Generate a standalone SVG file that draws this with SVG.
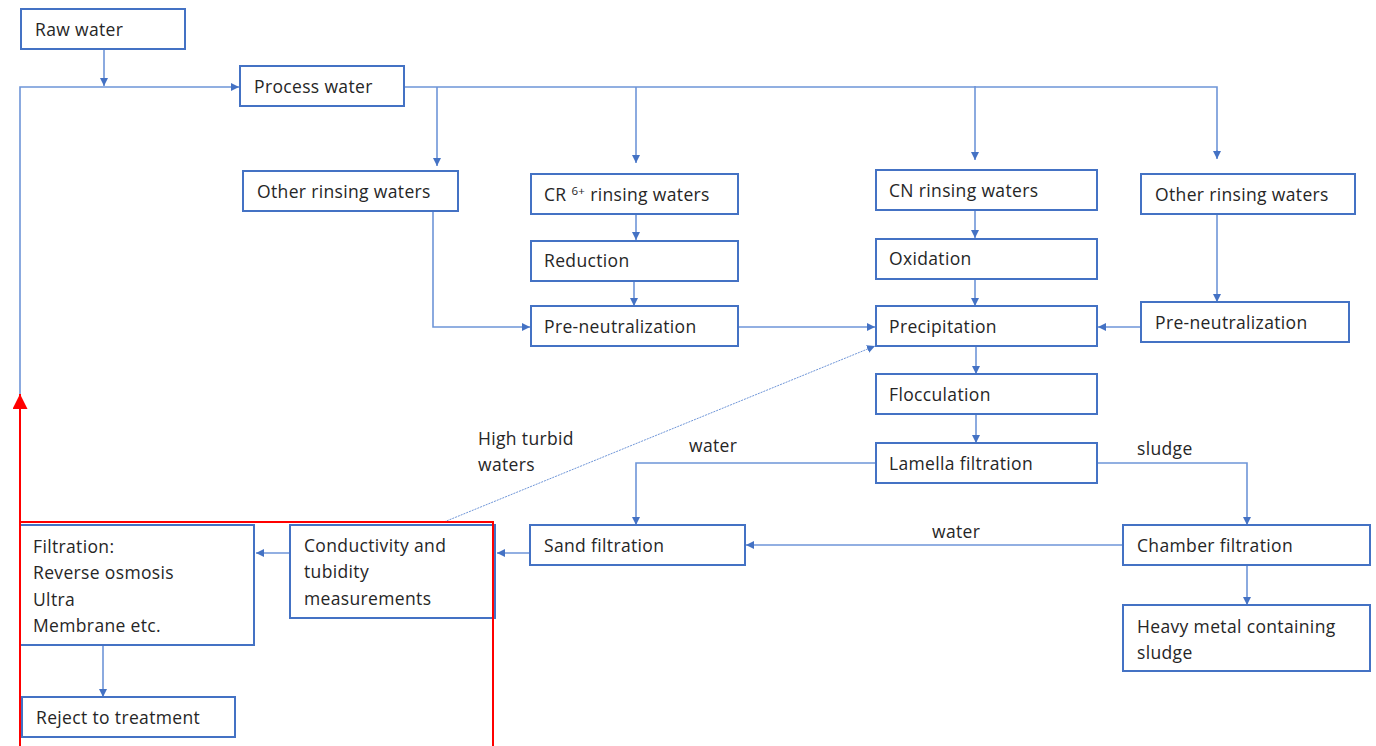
<svg xmlns="http://www.w3.org/2000/svg" width="1376" height="746" viewBox="0 0 1376 746">
<style>
.box{fill:#fff;stroke:#4472C4;stroke-width:2}
.t{font-family:"Open Sans","Liberation Sans",sans-serif;font-size:17.5px;letter-spacing:0.35px;fill:#262626}
.c{fill:none;stroke:#6E95D8;stroke-width:1.6}
.d{fill:none;stroke:#6E95D8;stroke-width:1;stroke-dasharray:2 1}
.red{fill:none;stroke:#FF0000;stroke-width:2}
</style>
<defs>
<marker id="a" viewBox="0 0 10 10" refX="10" refY="5" markerWidth="8" markerHeight="8" markerUnits="userSpaceOnUse" orient="auto"><path d="M0,0L10,5L0,10z" fill="#4472C4"/></marker>
<marker id="ar" viewBox="0 0 10 10" refX="10" refY="5" markerWidth="15" markerHeight="15" markerUnits="userSpaceOnUse" orient="auto"><path d="M0,0L10,5L0,10z" fill="#FF0000"/></marker>
</defs>
<rect width="1376" height="746" fill="#fff"/>
<g id="connectors">
<path class="c" d="M104,49V86" marker-end="url(#a)"/>
<path class="c" d="M20,396V87H239" marker-end="url(#a)"/>
<path class="c" d="M404,87H1217V158"/>
<path class="c" d="M1217,150V159" marker-end="url(#a)"/>
<path class="c" d="M437,87V166" marker-end="url(#a)"/>
<path class="c" d="M636,87V163" marker-end="url(#a)"/>
<path class="c" d="M975,86V160" marker-end="url(#a)"/>
<path class="c" d="M433,211V327H530" marker-end="url(#a)"/>
<path class="c" d="M636,214V240" marker-end="url(#a)"/>
<path class="c" d="M634,281V306" marker-end="url(#a)"/>
<path class="c" d="M738,327H875" marker-end="url(#a)"/>
<path class="c" d="M975,210V238" marker-end="url(#a)"/>
<path class="c" d="M975,279V306" marker-end="url(#a)"/>
<path class="c" d="M1217,214V302" marker-end="url(#a)"/>
<path class="c" d="M1141,327H1098" marker-end="url(#a)"/>
<path class="c" d="M976,346V374" marker-end="url(#a)"/>
<path class="c" d="M976,414V443" marker-end="url(#a)"/>
<path class="c" d="M876,463H636V525" marker-end="url(#a)"/>
<path class="c" d="M1097,463H1247V525" marker-end="url(#a)"/>
<path class="c" d="M1123,545H746" marker-end="url(#a)"/>
<path class="c" d="M1247,565V605" marker-end="url(#a)"/>
<path class="c" d="M530,553H497" marker-end="url(#a)"/>
<path class="c" d="M290,553H256" marker-end="url(#a)"/>
<path class="c" d="M103,645V697" marker-end="url(#a)"/>
<path class="d" d="M444,522L875,346" marker-end="url(#a)"/>
<path class="red" d="M20,746V394" marker-end="url(#ar)"/>
<text class="t" x="478" y="445">High turbid</text>
<text class="t" x="478" y="471">waters</text>
<text class="t" x="689" y="452">water</text>
<text class="t" x="1137" y="455">sludge</text>
<text class="t" x="932" y="538">water</text>
</g>
<g id="raw"><rect class="box" x="21" y="9" width="164" height="40"/><text class="t" x="35" y="36">Raw water</text></g>
<g id="process"><rect class="box" x="240" y="66" width="164" height="40"/><text class="t" x="254" y="93">Process water</text></g>
<g id="other1"><rect class="box" x="243" y="171" width="215" height="40"/><text class="t" x="257" y="198">Other rinsing waters</text></g>
<g id="cr"><rect class="box" x="531" y="174" width="207" height="40"/><text class="t" x="544" y="201">CR <tspan font-size="11.5" dy="-6">6+</tspan><tspan dy="6"> rinsing waters</tspan></text></g>
<g id="reduction"><rect class="box" x="531" y="241" width="207" height="40"/><text class="t" x="544" y="267">Reduction</text></g>
<g id="preneut1"><rect class="box" x="531" y="306" width="207" height="40"/><text class="t" x="544" y="333">Pre-neutralization</text></g>
<g id="cn"><rect class="box" x="876" y="170" width="221" height="40"/><text class="t" x="889" y="197">CN rinsing waters</text></g>
<g id="oxidation"><rect class="box" x="876" y="239" width="221" height="40"/><text class="t" x="889" y="265">Oxidation</text></g>
<g id="precipitation"><rect class="box" x="876" y="306" width="221" height="40"/><text class="t" x="889" y="333">Precipitation</text></g>
<g id="other2"><rect class="box" x="1141" y="174" width="214" height="40"/><text class="t" x="1155" y="201">Other rinsing waters</text></g>
<g id="preneut2"><rect class="box" x="1141" y="302" width="208" height="40"/><text class="t" x="1155" y="329">Pre-neutralization</text></g>
<g id="flocculation"><rect class="box" x="876" y="374" width="221" height="40"/><text class="t" x="889" y="401">Flocculation</text></g>
<g id="lamella"><rect class="box" x="876" y="443" width="221" height="40"/><text class="t" x="889" y="470">Lamella filtration</text></g>
<g id="sand"><rect class="box" x="530" y="525" width="215" height="40"/><text class="t" x="544" y="552">Sand filtration</text></g>
<g id="chamber"><rect class="box" x="1123" y="525" width="247" height="40"/><text class="t" x="1137" y="552">Chamber filtration</text></g>
<g id="heavy"><rect class="box" x="1123" y="605" width="247" height="66"/><text class="t" x="1137" y="633">Heavy metal containing</text><text class="t" x="1137" y="659">sludge</text></g>
<g id="conductivity"><rect class="box" x="290" y="525" width="205" height="93"/><text class="t" x="304" y="552">Conductivity and</text><text class="t" x="304" y="578">tubidity</text><text class="t" x="304" y="605">measurements</text></g>
<g id="filtration"><rect class="box" x="20" y="525" width="234" height="120"/><text class="t" x="33" y="553">Filtration:</text><text class="t" x="33" y="579">Reverse osmosis</text><text class="t" x="33" y="606">Ultra</text><text class="t" x="33" y="632">Membrane etc.</text></g>
<g id="reject"><rect class="box" x="22" y="697" width="213" height="40"/><text class="t" x="36" y="724">Reject to treatment</text></g>
<g id="highlight"><path class="red" d="M20,746V522H493V746"/></g>
</svg>
